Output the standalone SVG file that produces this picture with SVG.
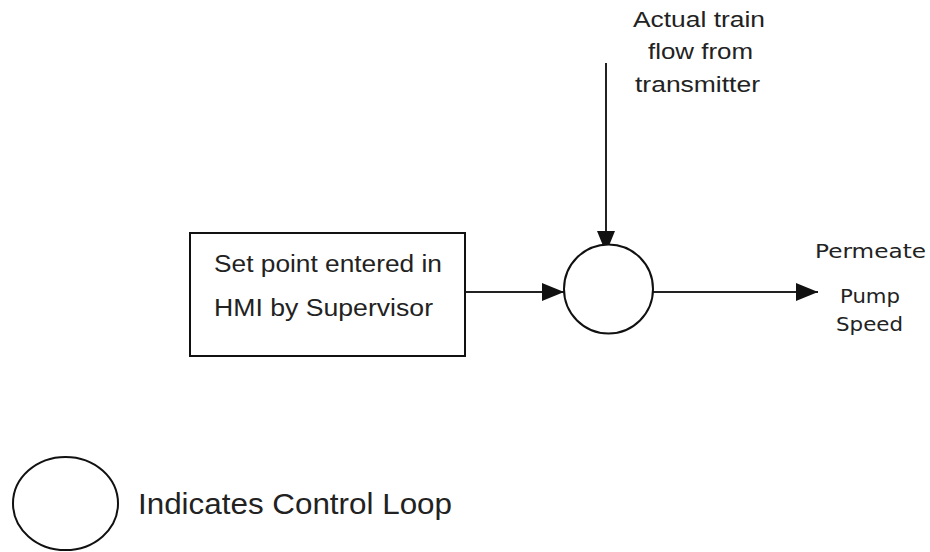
<svg xmlns="http://www.w3.org/2000/svg" width="930" height="552" viewBox="0 0 930 552">
<defs>
<marker id="arr" markerUnits="userSpaceOnUse" markerWidth="24" markerHeight="20" refX="22" refY="9" orient="auto">
<path d="M0,0 L22,9 L0,18 z" fill="#111"/>
</marker>
<style>
.shape{fill:#fff;stroke:#111;stroke-width:2}
.conn{fill:none;stroke:#222;stroke-width:2}
.t{font-family:"Liberation Sans",Arial,sans-serif;fill:#222}
.v{font-family:"DejaVu Sans",Verdana,sans-serif;fill:#222}
</style>
</defs>
<rect width="930" height="552" fill="#fff"/>
<g id="connectors">
<line class="conn" x1="606" y1="63" x2="606" y2="253" marker-end="url(#arr)"/>
<line class="conn" x1="465" y1="292" x2="564" y2="292" marker-end="url(#arr)"/>
<line class="conn" x1="653" y1="292" x2="818" y2="292" marker-end="url(#arr)"/>
</g>
<g id="setpoint">
<rect class="shape" x="190" y="233" width="275" height="123"/>
<text class="t" x="214" y="272" font-size="23" textLength="228" lengthAdjust="spacingAndGlyphs">Set point entered in</text>
<text class="t" x="214" y="316" font-size="23" textLength="219" lengthAdjust="spacingAndGlyphs">HMI by Supervisor</text>
</g>
<g id="controller">
<circle class="shape" cx="608.5" cy="289" r="44.5"/>
</g>
<g id="flow-label">
<text class="t" x="633" y="27" font-size="22" textLength="132" lengthAdjust="spacingAndGlyphs">Actual train</text>
<text class="t" x="648" y="59" font-size="22" textLength="105" lengthAdjust="spacingAndGlyphs">flow from</text>
<text class="t" x="635" y="92" font-size="22" textLength="125" lengthAdjust="spacingAndGlyphs">transmitter</text>
</g>
<g id="output-label">
<text class="v" x="815" y="258" font-size="20" textLength="111" lengthAdjust="spacingAndGlyphs">Permeate</text>
<text class="v" x="840" y="303" font-size="20" textLength="60" lengthAdjust="spacingAndGlyphs">Pump</text>
<text class="v" x="836" y="331" font-size="20" textLength="67" lengthAdjust="spacingAndGlyphs">Speed</text>
</g>
<g id="legend">
<ellipse class="shape" cx="65.5" cy="503.5" rx="52.5" ry="46.5"/>
<text class="t" x="138" y="514" font-size="30" textLength="314" lengthAdjust="spacingAndGlyphs">Indicates Control Loop</text>
</g>
</svg>
